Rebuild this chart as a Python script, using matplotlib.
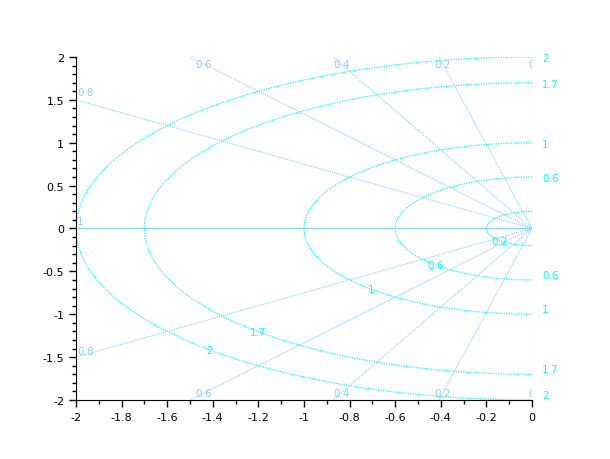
import numpy as np
import matplotlib
matplotlib.use("Agg")
import matplotlib.pyplot as plt
from matplotlib.ticker import MultipleLocator

# damping ratios and natural frequencies of the s-plane grid
zeta = [0, 0.2, 0.4, 0.6, 0.8, 1]
wn = [0.2, 0.6, 1, 1.7, 2]
xlim = (-2, 0)
ylim = (-2, 2)

col_zeta = "#87ceff"
col_wn = "#00ffff"
fs = 7.5

fig = plt.figure(figsize=(6.1, 4.6), dpi=100)
ax = fig.add_axes([0.1246, 0.1283, 0.7475, 0.7456])

# damping lines, clipped to the box
for z in zeta:
    s = np.sqrt(1 - z**2)
    if z == 0:
        r = ylim[1]
    elif s == 0:
        r = -xlim[0]
    else:
        r = min(-xlim[0] / z, ylim[1] / s)
    xe, ye = -r * z, r * s
    ls = "-" if z in (0, 1) else (0, (1, 1))
    ax.plot([0, xe], [0, ye], color=col_zeta, lw=0.8, ls=ls)
    ax.plot([0, xe], [0, -ye], color=col_zeta, lw=0.8, ls=ls)
    lab = "%g" % z
    if z == 0 or (z > 0 and ye >= ylim[1] - 1e-9):
        yl = 1.918
        xl = -yl * z / s
        for sg in (1, -1):
            ax.text(xl, sg * yl, lab, color=col_zeta, fontsize=fs,
                    ha="center", va="center", clip_on=True, zorder=5)
    else:
        ax.text(-1.995, ye + 0.09, lab, color=col_zeta, fontsize=fs,
                ha="left", va="center", clip_on=True, zorder=5)
        if ye > 0:
            ax.text(-1.995, -ye + 0.07, lab, color=col_zeta, fontsize=fs,
                    ha="left", va="center", clip_on=True, zorder=5)

# natural frequency half circles
t = np.linspace(np.pi / 2, 3 * np.pi / 2, 200)
for w in wn:
    ax.plot(w * np.cos(t), w * np.sin(t), color=col_wn, lw=0.9, ls=(0, (1, 1)))
    lab = "%g" % w
    ax.text(-w * np.sqrt(0.5), -w * np.sqrt(0.5), lab, color=col_wn,
            fontsize=fs, ha="center", va="center", zorder=5)
    if w > 0.3:
        ax.text(0.045, w - 0.015, lab, color=col_wn, fontsize=fs,
                ha="left", va="center", clip_on=False)
        ax.text(0.045, -w + 0.06, lab, color=col_wn, fontsize=fs,
                ha="left", va="center", clip_on=False)

ax.set_xlim(*xlim)
ax.set_ylim(*ylim)
ax.spines["top"].set_visible(False)
ax.spines["right"].set_visible(False)
ax.xaxis.set_major_locator(MultipleLocator(0.2))
ax.xaxis.set_minor_locator(MultipleLocator(0.1))
ax.yaxis.set_major_locator(MultipleLocator(0.5))
ax.yaxis.set_minor_locator(MultipleLocator(0.1))
ax.xaxis.set_major_formatter(lambda v, p: "%g" % round(v, 2))
ax.yaxis.set_major_formatter(lambda v, p: "%g" % round(v, 2))
ax.tick_params(which="major", length=5, width=1, labelsize=8, direction="out")
ax.tick_params(which="minor", length=3, width=1, direction="out")

fig.savefig("out.png", dpi=100)
